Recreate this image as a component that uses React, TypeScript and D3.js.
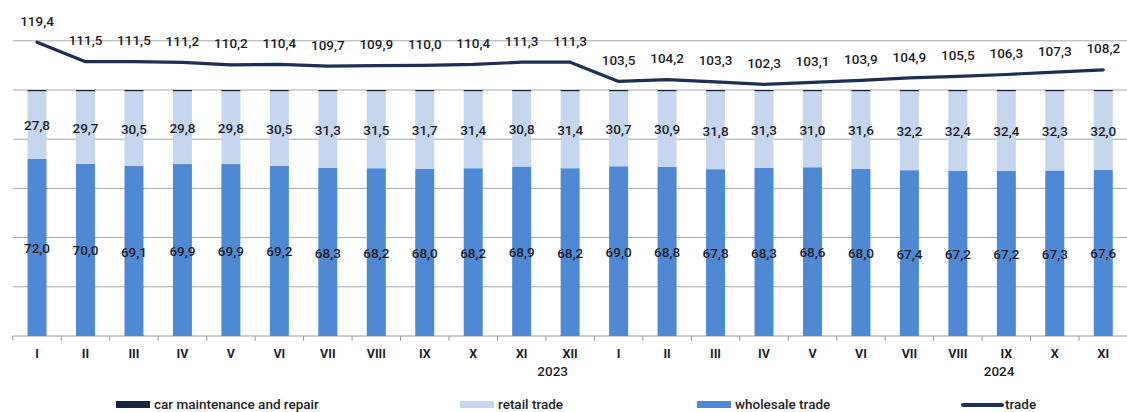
import React from "react";
import * as d3 from "d3";

const months = ["I","II","III","IV","V","VI","VII","VIII","IX","X","XI","XII","I","II","III","IV","V","VI","VII","VIII","IX","X","XI"];
const categories = months.map((m, i) => `${i < 12 ? 2023 : 2024}-${m}`);
const wholesale = [72.0,70.0,69.1,69.9,69.9,69.2,68.3,68.2,68.0,68.2,68.9,68.2,69.0,68.8,67.8,68.3,68.6,68.0,67.4,67.2,67.2,67.3,67.6];
const retail = [27.8,29.7,30.5,29.8,29.8,30.5,31.3,31.5,31.7,31.4,30.8,31.4,30.7,30.9,31.8,31.3,31.0,31.6,32.2,32.4,32.4,32.3,32.0];
const carRepair = [0.2,0.3,0.4,0.3,0.3,0.3,0.4,0.3,0.3,0.4,0.3,0.4,0.3,0.3,0.4,0.4,0.4,0.4,0.4,0.4,0.4,0.4,0.4];
const trade = [119.4,111.5,111.5,111.2,110.2,110.4,109.7,109.9,110.0,110.4,111.3,111.3,103.5,104.2,103.3,102.3,103.1,103.9,104.9,105.5,106.3,107.3,108.2];
const yTicks = [0,20,40,60,80,100,120];
const years = [{ label: "2023", at: 10.64 }, { label: "2024", at: 19.85 }];

const W = 1127, H = 412;
const C_WHOLE = "#4f88d3";
const C_RETAIL = "#c5d6ee";
const C_CAR = "#16253f";
const C_LINE = "#1b3054";
const FONT = "Roboto, 'Noto Sans', sans-serif";
const fmt = (v: number) => v.toFixed(1).replace(".", ",");

export default function App() {
  const x = d3.scaleBand<string>().domain(categories).range([12.8, 1127.5]).paddingInner(0.6).paddingOuter(0.3);
  const step = x.step();
  const y = d3.scaleLinear().domain([0, 120]).range([336, 40.8]);
  const cx = (i: number) => (x(categories[i]) as number) + x.bandwidth() / 2;
  const bw = 19;

  const line = d3.line<number>().x((_, i) => cx(i)).y((d) => y(d)).curve(d3.curveLinear);
  const x0 = 12.8;

  const legend = [
    { kind: "rect", color: C_CAR, label: "car maintenance and repair", x: 116 },
    { kind: "rect", color: C_RETAIL, label: "retail trade", x: 460 },
    { kind: "rect", color: C_WHOLE, label: "wholesale trade", x: 697 },
    { kind: "line", color: C_LINE, label: "trade", x: 963 },
  ];

  return (
    <svg width={W} height={H} style={{ position: "absolute", left: 0, top: 0, background: "#fff" }} fontFamily={FONT}>
      {yTicks.map((t) => (
        <line key={t} x1={x0} x2={W} y1={y(t)} y2={y(t)} stroke={t === 0 ? "#9a9a9a" : "#a8a8a8"} strokeWidth={1} />
      ))}
      {d3.range(categories.length + 1).map((i) => (
        <line key={i} x1={x0 + i * step} x2={x0 + i * step} y1={336} y2={341} stroke="#9a9a9a" strokeWidth={1} />
      ))}
      {categories.map((c, i) => {
        const bx = cx(i) - bw / 2;
        const w0 = y(0), w1 = y(wholesale[i]);
        const r1 = y(wholesale[i] + retail[i]);
        const c1 = y(wholesale[i] + retail[i] + carRepair[i]);
        return (
          <g key={c}>
            <rect x={bx} y={w1} width={bw} height={w0 - w1} fill={C_WHOLE} />
            <rect x={bx} y={r1} width={bw} height={w1 - r1} fill={C_RETAIL} />
            <rect x={bx} y={c1} width={bw} height={Math.max(r1 - c1, 1.2)} fill={C_CAR} />
          </g>
        );
      })}
      {categories.map((c, i) => {
        const wMid = (y(0) + y(wholesale[i])) / 2;
        const rMid = (y(wholesale[i]) + y(wholesale[i] + retail[i])) / 2;
        return (
          <g key={"l" + c} fontSize={13.5} fontWeight={500} fill="#1e1e28" textAnchor="middle">
            <text x={cx(i)} y={rMid + 2} dominantBaseline="middle">{fmt(retail[i])}</text>
            <text x={cx(i)} y={wMid + 2} dominantBaseline="middle">{fmt(wholesale[i])}</text>
          </g>
        );
      })}
      <path d={line(trade) as string} fill="none" stroke={C_LINE} strokeWidth={3.2} strokeLinejoin="round" strokeLinecap="round" />
      {trade.map((v, i) => (
        <text key={"t" + i} x={cx(i)} y={y(v) - 20} dominantBaseline="middle" textAnchor="middle" fontSize={13.5} fontWeight={500} fill="#1e1e28">
          {fmt(v)}
        </text>
      ))}
      {months.map((m, i) => (
        <text key={"m" + i} x={cx(i)} y={355} dominantBaseline="middle" textAnchor="middle" fontSize={12.5} fontWeight={700} fill="#1e1e28">
          {m}
        </text>
      ))}
      {years.map((yr) => (
        <text key={yr.label} x={x0 + (yr.at + 0.5) * step} y={372} dominantBaseline="middle" textAnchor="middle" fontSize={13.5} fontWeight={500} fill="#1e1e28">
          {yr.label}
        </text>
      ))}
      {legend.map((l) => (
        <g key={l.label}>
          {l.kind === "rect" ? (
            <rect x={l.x} y={401} width={34} height={7} fill={l.color} />
          ) : (
            <line x1={l.x} x2={l.x + 39} y1={405} y2={405} stroke={l.color} strokeWidth={4} strokeLinecap="round" />
          )}
          <text x={l.x + (l.kind === "rect" ? 38 : 42)} y={408.5} fontSize={13.5} fontWeight={500} fill="#1e1e28">
            {l.label}
          </text>
        </g>
      ))}
    </svg>
  );
}
